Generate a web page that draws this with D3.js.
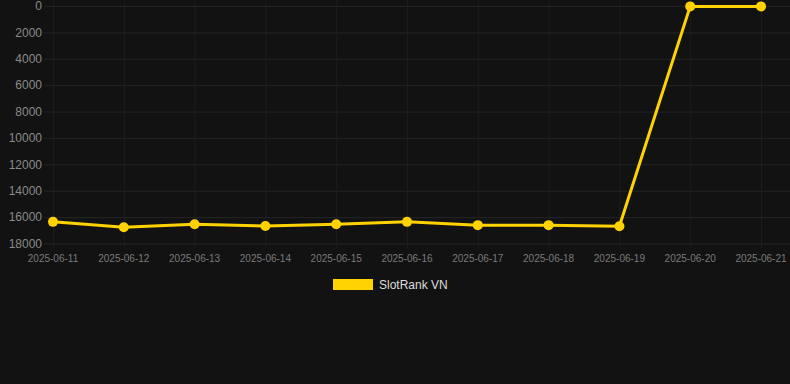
<!DOCTYPE html>
<html>
<head>
<meta charset="utf-8">
<script src="https://cdn.jsdelivr.net/npm/d3@7"></script>
<style>
  html, body { margin: 0; padding: 0; background: #121212; }
  #chart { width: 790px; height: 384px; }
  text { font-family: Arial, "Liberation Sans", sans-serif; }
</style>
</head>
<body>
<div id="chart"></div>
<script>
// ============================================================
//  Data
// ============================================================

const dates = ['2025-06-11', '2025-06-12', '2025-06-13', '2025-06-14', '2025-06-15',
  '2025-06-16', '2025-06-17', '2025-06-18', '2025-06-19', '2025-06-20', '2025-06-21'];
const rankValues = [16360, 16770, 16540, 16670, 16540, 16360, 16610, 16610, 16690, 30, 30];
const yTicks = [0, 2000, 4000, 6000, 8000, 10000, 12000, 14000, 16000, 18000];
const seriesName = 'SlotRank VN';

// ============================================================
//  Chart
// ============================================================

const width = 790, height = 384;
const lineColor = '#ffd200';
const gridColor = '#242424';

const svg = d3.select('#chart').append('svg')
  .attr('width', width)
  .attr('height', height);

svg.append('rect')
  .attr('width', width).attr('height', height)
  .attr('fill', '#121212');

const x = d3.scalePoint().domain(dates).range([53, 761]);
// rank axis is reversed: 0 on top
const y = d3.scaleLinear().domain([0, 18000]).range([6, 243.5]);

// horizontal grid + y labels
const yAxis = svg.append('g')
  .attr('transform', 'translate(44,0)')
  .call(d3.axisRight(y).tickValues(yTicks).tickSize(width - 44).tickFormat(''));
yAxis.select('.domain').remove();
yAxis.selectAll('.tick line').attr('stroke', gridColor);

svg.append('g').selectAll('text')
  .data(yTicks)
  .join('text')
  .attr('x', 42)
  .attr('y', d => y(d))
  .attr('dy', '0.35em')
  .attr('text-anchor', 'end')
  .attr('fill', '#8a8a8a')
  .attr('font-size', 12)
  .text(d => d);

// vertical grid + x labels
const xAxis = svg.append('g')
  .attr('transform', 'translate(0,248)')
  .call(d3.axisTop(x).tickSize(248).tickFormat(''));
xAxis.select('.domain').remove();
xAxis.selectAll('.tick line').attr('stroke', '#1d1d1d');

svg.append('g').selectAll('text')
  .data(dates)
  .join('text')
  .attr('x', d => x(d))
  .attr('y', 262)
  .attr('text-anchor', 'middle')
  .attr('fill', '#7a7a7a')
  .attr('font-size', 10)
  .text(d => d);

// line
const line = d3.line()
  .x((d, i) => x(dates[i]))
  .y(d => y(d));

svg.append('path')
  .datum(rankValues)
  .attr('fill', 'none')
  .attr('stroke', lineColor)
  .attr('stroke-width', 3)
  .attr('stroke-linejoin', 'round')
  .attr('d', line);

svg.append('g').selectAll('circle')
  .data(rankValues)
  .join('circle')
  .attr('cx', (d, i) => x(dates[i]))
  .attr('cy', d => y(d))
  .attr('r', 5)
  .attr('fill', lineColor);

// legend
const legend = svg.append('g').attr('transform', 'translate(333,279)');
legend.append('rect')
  .attr('width', 40).attr('height', 11)
  .attr('fill', lineColor);
legend.append('text')
  .attr('x', 46).attr('y', 5.5)
  .attr('dy', '0.35em')
  .attr('fill', '#dddddd')
  .attr('font-size', 12)
  .text(seriesName);
</script>
</body>
</html>
